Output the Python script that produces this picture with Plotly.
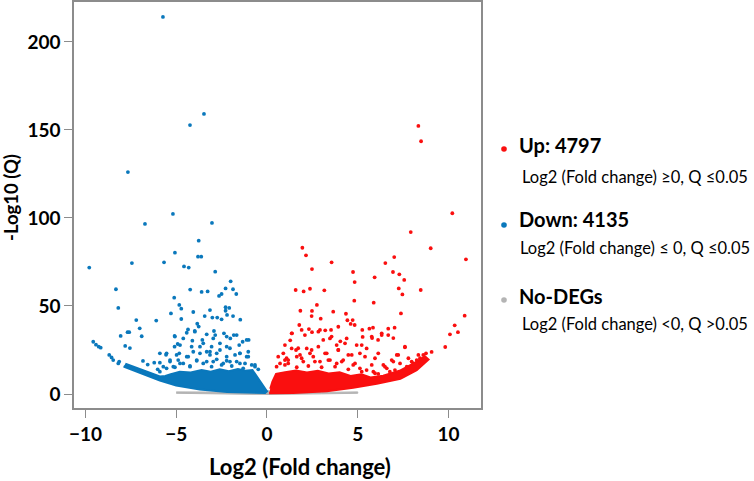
import plotly.graph_objects as go

# volcano plot: log2 fold change vs -log10(Q)

# dense cores (outline of the solid mass of points)
down_core_x = [-7.9, -6.8, -5.9, -5.0, -3.7, -2.2, -1.1, -0.1, 0.0, -0.3, -0.6, -0.8, -1.2, -1.6,
               -2.1, -2.6, -3.1, -3.6, -4.2, -4.8, -5.3, -5.6, -5.9, -6.8, -7.8]
down_core_y = [15.6, 11.0, 7.6, 4.8, 2.5, 1.2, 0.8, 0.6, 1.5, 6.0, 11.0, 13.6, 13.2, 14.2,
               13.0, 14.0, 12.6, 13.6, 12.2, 12.6, 11.2, 10.2, 10.0, 13.2, 17.2]

up_core_x = [0.12, 1.45, 3.3, 4.75, 6.05, 7.35, 8.25, 8.9, 8.7, 8.05, 7.3, 6.4, 5.7, 5.2,
             4.6, 4.0, 3.4, 2.8, 2.2, 1.6, 1.0, 0.5, 0.3, 0.18]
up_core_y = [0.5, 0.6, 1.6, 3.5, 5.8, 8.6, 13.6, 19.6, 21.4, 17.2, 13.2, 10.4, 9.4, 11.2,
             10.2, 12.4, 11.6, 13.2, 12.2, 13.4, 12.4, 11.4, 7.0, 3.0]

nodeg_x = [-5.0, -3.0, 0.0, 3.0, 5.0, 5.0, 3.0, 0.5, 0.0, -0.5, -3.0, -5.0]
nodeg_y = [0.4, 0.1, -0.3, 0.1, 0.4, 1.2, 0.9, 1.0, 2.0, 1.0, 0.9, 1.2]

# scattered points
down_x = [-5.73, -3.47, -4.24, -7.66, -5.18, -6.72, -3.03, -3.76, -9.79, -7.44, -5.07, -5.67,
          -3.80, -3.62, -4.57, -4.31, -2.85, -8.32, -4.23, -3.60, -3.27, -2.00, -2.28, -1.87,
          -2.64, -2.50, -1.69, -5.11, -8.19, -4.83, -4.72, -5.29, -7.20, -6.10, -4.06, -4.72,
          -3.84, -3.76, -3.43, -3.14, -3.01, -2.74, -2.50, -2.28, -2.08, -2.28, -2.20, -1.87,
          -1.47, -7.01, -7.68, -7.59, -8.06, -6.90, -9.57, -9.42, -9.27, -9.16, -7.81, -7.55,
          -8.69, -8.56, -8.47, -8.14, -8.19, -6.83, -6.57, -6.21, -5.90, -5.56, -5.90, -6.02,
          -4.35, -5.09, -4.61, -5.09, -4.92, -4.83, -4.11, -3.56, -3.98, -3.32, -2.92, -2.85,
          -2.37, -2.02, -1.83, -1.34, -1.01, -1.53, -3.05, -2.59, -2.22, -3.69, -3.32, -2.77,
          -1.76, -1.12, -4.42, -5.34, -3.87, -5.16, -4.79, -4.24, -3.51, -2.96, -2.41, -2.04,
          -1.49, -0.84, -0.66, -3.14, -2.22, -1.49, -1.03, -4.06, -4.89, -5.90, -5.53,
          -5.07, -4.42, -3.97, -4.79, -4.15, -3.51, -2.96, -2.22, -1.67, -1.12, -5.53, -4.98,
          -4.34, -3.69, -3.14, -2.59, -2.04, -1.49, -1.03, -5.34, -4.61, -3.87, -3.32, -2.77,
          -2.22, -1.67, -1.21, -0.66, -5.71, -5.07, -4.24, -3.05, -2.50, -1.94, -1.31, -0.48]
down_y = [214.2, 159.1, 152.8, 126.1, 102.3, 96.6, 97.2, 87.1, 71.8, 74.4, 80.3, 74.8,
          78.0, 78.0, 72.5, 71.8, 69.5, 59.5, 59.3, 58.0, 58.3, 64.0, 60.0, 59.5,
          55.7, 56.8, 56.8, 54.7, 48.9, 50.6, 48.5, 45.8, 42.0, 41.7, 46.6, 42.6,
          39.9, 38.3, 44.3, 47.7, 43.4, 43.4, 42.4, 49.3, 48.9, 47.3, 44.9, 44.3,
          42.2, 37.3, 35.1, 35.1, 33.0, 32.8, 29.7, 28.0, 26.9, 26.3, 27.3, 26.1,
          22.2, 20.8, 19.3, 18.4, 17.4, 18.8, 16.7, 17.8, 23.1, 22.3, 17.8, 14.0,
          36.7, 33.0, 31.6, 26.9, 28.4, 23.1, 30.3, 30.7, 35.8, 33.9, 35.8, 33.5,
          34.5, 31.6, 33.5, 29.7, 30.7, 27.8, 26.9, 28.8, 26.9, 26.9, 24.0, 23.1,
          22.2, 21.2, 21.2, 19.3, 19.3, 15.5, 17.4, 15.5, 17.4, 18.4, 17.4, 18.4,
          17.4, 16.5, 15.5, 22.2, 21.2, 23.1, 24.0, 24.0, 19.3, 12.7, 14.6,
          32.6, 34.8, 35.4, 27.8, 26.9, 28.8, 31.6, 32.6, 33.5, 30.7, 23.1, 22.2,
          21.2, 23.1, 24.0, 25.0, 26.0, 23.1, 21.2, 18.4, 17.4, 18.9, 18.4, 19.7,
          18.9, 18.4, 17.4, 16.5, 15.5, 15.2, 15.9, 15.5, 16.5, 15.9, 14.6, 14.0]

up_x = [8.34, 8.49, 10.21, 7.92, 9.02, 10.96, 1.95, 2.15, 3.56, 2.48, 6.52, 7.01,
        4.74, 6.94, 7.29, 5.93, 7.56, 4.83, 1.58, 2.02, 2.37, 3.16, 7.26, 7.46,
        8.47, 4.81, 5.88, 2.75, 1.84, 2.48, 3.65, 2.46, 4.35, 2.96, 4.43, 4.72,
        4.61, 4.83, 7.38, 10.89, 10.34, 10.08, 10.52, 9.82, 9.07, 7.60, 1.78, 1.91,
        1.38, 1.28, 2.31, 2.48, 2.92, 3.21, 3.53, 3.93, 5.25, 5.64, 5.84, 6.68,
        7.03, 6.32, 6.68, 6.96, 5.79, 6.12, 5.27, 4.39, 4.04, 3.47, 3.84, 4.94,
        5.49, 5.95, 6.41, 6.60, 7.15, 7.33, 7.79, 8.06, 8.25, 8.43, 8.61, 8.76,
        8.15, 7.70, 6.96, 1.60, 2.19, 2.83, 1.82, 1.08, 3.29, 4.48, 2.55, 3.93,
        3.10, 5.12, 0.72, 0.99, 2.00, 2.92, 3.84, 4.20, 4.75, 5.12, 5.49, 5.86,
        6.13, 6.77, 1.64, 1.36, 0.90, 1.17, 2.37, 3.47,
        1.36, 2.09, 2.83, 3.56, 4.30, 5.22, 5.77, 6.32, 7.60, 8.34, 0.99, 1.72,
        2.46, 3.20, 3.93, 4.67, 5.40, 6.13, 6.87, 7.23, 7.97, 0.62, 1.17, 1.91,
        2.64, 3.38, 4.12, 4.85, 5.77, 6.50, 0.53, 0.99, 1.64, 2.28, 3.01, 3.75,
        4.48, 5.22, 5.95, 7.05]
up_y = [152.3, 143.6, 102.7, 92.0, 82.8, 76.5, 83.1, 78.8, 74.8, 71.0, 74.4, 77.8,
        69.3, 69.3, 68.0, 66.3, 64.8, 63.6, 59.1, 58.3, 59.8, 58.9, 60.0, 56.6,
        59.1, 53.0, 51.9, 50.6, 47.3, 47.2, 46.8, 44.3, 45.6, 42.8, 41.9, 42.0,
        39.8, 39.2, 45.8, 44.5, 39.0, 33.9, 35.1, 26.7, 23.9, 26.5, 39.2, 36.4,
        34.5, 30.5, 36.9, 35.1, 36.4, 36.2, 36.4, 38.2, 36.4, 37.1, 37.7, 37.1,
        37.7, 34.5, 33.5, 31.8, 31.8, 30.7, 32.4, 31.6, 29.9, 31.6, 27.8, 27.8,
        25.9, 20.3, 16.5, 14.6, 22.2, 17.4, 20.3, 17.4, 19.3, 20.3, 22.2, 23.1,
        14.0, 15.5, 18.4, 25.0, 25.9, 26.9, 22.2, 20.3, 23.1, 22.2, 21.2, 25.0,
        30.7, 23.1, 17.4, 19.3, 18.4, 18.4, 17.4, 19.3, 16.5, 14.6, 13.6, 12.7,
        11.4, 12.7, 21.2, 25.9, 23.1, 17.4, 23.1, 19.3,
        34.5, 33.5, 35.4, 32.6, 28.8, 27.8, 32.6, 33.5, 26.9, 22.2, 27.8, 26.0,
        25.0, 23.1, 25.0, 22.2, 21.2, 23.1, 19.3, 22.2, 18.4, 21.2, 19.3, 20.3,
        18.4, 19.3, 18.4, 17.4, 16.5, 15.5, 15.5, 16.5, 15.2, 15.9, 15.2, 15.5,
        14.0, 12.7, 11.8, 13.6]

RED = "#fa0f0f"
BLUE = "#0a78bc"
GREY = "#b4b4b4"
FONT = "Lato, 'Open Sans', sans-serif"

fig = go.Figure()

fig.add_trace(go.Scatter(x=nodeg_x, y=nodeg_y, fill="toself", mode="lines",
                         fillcolor=GREY, line=dict(color=GREY, width=1), hoverinfo="skip"))
fig.add_trace(go.Scatter(x=down_core_x, y=down_core_y, fill="toself", mode="lines",
                         fillcolor=BLUE, line=dict(color=BLUE, width=2), hoverinfo="skip"))
fig.add_trace(go.Scatter(x=up_core_x, y=up_core_y, fill="toself", mode="lines",
                         fillcolor=RED, line=dict(color=RED, width=2), hoverinfo="skip"))
fig.add_trace(go.Scatter(x=down_x, y=down_y, mode="markers",
                         marker=dict(color=BLUE, size=3.8, line=dict(width=0))))
fig.add_trace(go.Scatter(x=up_x, y=up_y, mode="markers",
                         marker=dict(color=RED, size=3.8, line=dict(width=0))))

# plot area in pixels: x 74..481, y 2..408
L, R, T, B = 74, 481, 2, 408


def px(x):
    return (x - L) / (R - L)


def py(y):
    return (B - y) / (B - T)


legend = [
    (RED, 149, "Up: 4797", 145, "Log2 (Fold change) \u22650, Q \u22640.05", 177, 521),
    (BLUE, 225, "Down: 4135", 219, "Log2 (Fold change) \u2264 0, Q \u22640.05", 248, 519),
    (GREY, 300, "No-DEGs", 296, "Log2 (Fold change) <0, Q >0.05", 324, 521),
]
shapes = []
annotations = []
for col, dot_y, head, head_y, sub, sub_y, sub_x in legend:
    shapes.append(dict(type="circle", xref="paper", yref="paper",
                       xsizemode="pixel", ysizemode="pixel",
                       xanchor=px(504), yanchor=py(dot_y),
                       x0=-2.8, x1=2.8, y0=-2.8, y1=2.8,
                       fillcolor=col, line=dict(width=0)))
    annotations.append(dict(xref="paper", yref="paper", x=px(517), y=py(head_y),
                            xanchor="left", yanchor="middle", showarrow=False,
                            text="<b>" + head + "</b>",
                            font=dict(family=FONT, size=20, color="black")))
    annotations.append(dict(xref="paper", yref="paper", x=px(sub_x - 1), y=py(sub_y),
                            xanchor="left", yanchor="middle", showarrow=False,
                            text=sub, font=dict(family=FONT, size=16.5, color="black")))

# axis titles
annotations.append(dict(xref="paper", yref="paper", x=px(300), y=py(466),
                        xanchor="center", yanchor="middle", showarrow=False,
                        text="<b>Log2 (Fold change)</b>",
                        font=dict(family=FONT, size=22, color="black")))
annotations.append(dict(xref="paper", yref="paper", x=px(11), y=py(198),
                        xanchor="center", yanchor="middle", showarrow=False, textangle=-90,
                        text="<b>-Log10 (Q)</b>",
                        font=dict(family=FONT, size=18.5, color="black")))

fig.update_layout(
    width=754, height=481,
    margin=dict(l=L, r=754 - R, t=T, b=481 - B, autoexpand=False),
    plot_bgcolor="white", paper_bgcolor="white",
    showlegend=False,
    shapes=shapes, annotations=annotations,
    font=dict(family=FONT, color="black"),
)
fig.update_xaxes(
    range=[-10.63, 11.79], tickvals=[-10, -5, 0, 5, 10],
    showgrid=False, zeroline=False, automargin=False,
    showline=True, linecolor="#8c8c8c", linewidth=1.5, mirror=True,
    ticks="outside", ticklen=8, tickcolor="#8c8c8c", tickwidth=1.2,
    tickfont=dict(family=FONT, size=19, color="black", weight="bold"),
)
fig.update_yaxes(
    range=[-7.95, 222.7], tickvals=[0, 50, 100, 150, 200],
    showgrid=False, zeroline=False, automargin=False,
    showline=True, linecolor="#8c8c8c", linewidth=1.5, mirror=True,
    ticks="outside", ticklen=8, tickcolor="#8c8c8c", tickwidth=1.2,
    tickfont=dict(family=FONT, size=19, color="black", weight="bold"),
)

# the page body has a default margin; remove it so the figure sits at 0,0
fig.write_html("out.html", config={"displayModeBar": False},
               post_script="document.body.style.margin='0';")
